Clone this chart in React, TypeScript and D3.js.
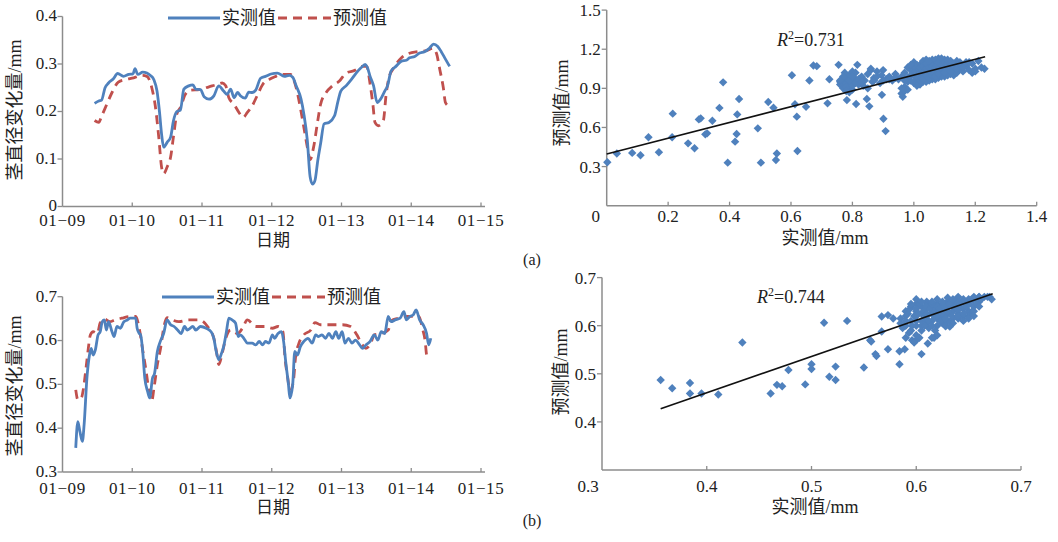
import React from "react";
import * as d3 from "d3";

// ---------- data ----------
const dayLabels = ["01−09", "01−10", "01−11", "01−12", "01−13", "01−14", "01−15"];
const yTicksA = [0, 0.1, 0.2, 0.3, 0.4];
const yTicksB = [0.3, 0.4, 0.5, 0.6, 0.7];

// [day offset from 01-09, value]
const measuredA: [number, number][] = [[0.46,0.217],[0.52,0.222],[0.56,0.224],[0.61,0.25],[0.66,0.26],[0.73,0.269],[0.79,0.28],[0.875,0.274],[0.95,0.278],[1.01,0.279],[1.04,0.29],[1.08,0.278],[1.15,0.283],[1.21,0.281],[1.26,0.276],[1.31,0.267],[1.355,0.243],[1.39,0.2],[1.42,0.153],[1.45,0.125],[1.5,0.135],[1.55,0.146],[1.59,0.18],[1.64,0.2],[1.69,0.203],[1.74,0.247],[1.81,0.254],[1.87,0.256],[1.91,0.247],[1.98,0.246],[2.03,0.231],[2.1,0.226],[2.17,0.233],[2.24,0.254],[2.31,0.243],[2.36,0.236],[2.41,0.247],[2.46,0.229],[2.51,0.24],[2.55,0.233],[2.62,0.228],[2.67,0.241],[2.72,0.24],[2.77,0.245],[2.84,0.27],[2.91,0.274],[2.99,0.279],[3.08,0.281],[3.18,0.274],[3.25,0.276],[3.3,0.272],[3.35,0.254],[3.42,0.226],[3.46,0.195],[3.51,0.139],[3.55,0.0625],[3.585,0.047],[3.62,0.055],[3.66,0.097],[3.7,0.132],[3.75,0.174],[3.82,0.177],[3.9,0.191],[3.95,0.222],[3.99,0.243],[4.065,0.254],[4.14,0.267],[4.21,0.281],[4.28,0.292],[4.34,0.299],[4.37,0.293],[4.41,0.274],[4.46,0.254],[4.51,0.219],[4.56,0.226],[4.62,0.243],[4.66,0.254],[4.71,0.285],[4.78,0.295],[4.86,0.306],[4.93,0.308],[4.975,0.313],[5.05,0.316],[5.12,0.323],[5.19,0.326],[5.26,0.333],[5.32,0.342],[5.38,0.337],[5.43,0.326],[5.48,0.313],[5.55,0.295]];
const predictedA: [number, number][] = [[0.46,0.181],[0.52,0.177],[0.56,0.19],[0.635,0.215],[0.71,0.24],[0.8,0.262],[0.9,0.267],[1.02,0.271],[1.14,0.276],[1.21,0.274],[1.28,0.25],[1.33,0.212],[1.38,0.146],[1.42,0.083],[1.45,0.069],[1.5,0.083],[1.55,0.104],[1.59,0.146],[1.64,0.195],[1.69,0.208],[1.76,0.236],[1.84,0.245],[1.96,0.246],[2.1,0.252],[2.2,0.256],[2.29,0.26],[2.34,0.254],[2.385,0.229],[2.46,0.215],[2.53,0.198],[2.59,0.1875],[2.65,0.198],[2.72,0.212],[2.79,0.233],[2.87,0.257],[2.96,0.267],[3.06,0.274],[3.13,0.278],[3.27,0.278],[3.35,0.25],[3.42,0.2],[3.46,0.167],[3.51,0.125],[3.55,0.099],[3.6,0.125],[3.66,0.181],[3.7,0.215],[3.78,0.24],[3.87,0.254],[3.97,0.264],[4.065,0.281],[4.18,0.286],[4.3,0.295],[4.36,0.295],[4.41,0.258],[4.45,0.215],[4.48,0.177],[4.53,0.17],[4.6,0.181],[4.64,0.236],[4.68,0.271],[4.75,0.292],[4.86,0.313],[4.96,0.322],[5.1,0.326],[5.22,0.328],[5.31,0.333],[5.36,0.323],[5.41,0.288],[5.46,0.25],[5.49,0.219],[5.53,0.212]];
const measuredB: [number, number][] = [[0.19,0.355],[0.22,0.415],[0.25,0.392],[0.285,0.37],[0.31,0.408],[0.35,0.514],[0.38,0.56],[0.41,0.582],[0.44,0.567],[0.47,0.578],[0.51,0.613],[0.54,0.62],[0.57,0.643],[0.6,0.647],[0.63,0.624],[0.66,0.643],[0.71,0.62],[0.74,0.609],[0.78,0.632],[0.83,0.628],[0.88,0.643],[0.93,0.647],[0.97,0.651],[1.05,0.651],[1.07,0.628],[1.1,0.616],[1.12,0.613],[1.15,0.575],[1.18,0.514],[1.22,0.484],[1.25,0.469],[1.29,0.514],[1.32,0.525],[1.36,0.575],[1.4,0.597],[1.45,0.616],[1.5,0.647],[1.55,0.636],[1.6,0.632],[1.65,0.624],[1.7,0.616],[1.75,0.632],[1.79,0.624],[1.87,0.632],[1.91,0.624],[1.98,0.632],[2.06,0.628],[2.13,0.62],[2.17,0.605],[2.2,0.578],[2.24,0.556],[2.28,0.571],[2.31,0.586],[2.35,0.62],[2.385,0.651],[2.43,0.647],[2.48,0.64],[2.52,0.609],[2.55,0.613],[2.6,0.605],[2.65,0.594],[2.72,0.594],[2.77,0.59],[2.82,0.598],[2.87,0.59],[2.91,0.598],[2.96,0.594],[3.01,0.613],[3.04,0.605],[3.09,0.616],[3.14,0.62],[3.17,0.598],[3.2,0.552],[3.24,0.499],[3.26,0.469],[3.3,0.499],[3.33,0.575],[3.37,0.567],[3.41,0.586],[3.46,0.598],[3.52,0.605],[3.58,0.594],[3.63,0.613],[3.67,0.609],[3.72,0.613],[3.77,0.605],[3.82,0.616],[3.87,0.605],[3.92,0.62],[3.96,0.605],[4.01,0.62],[4.05,0.594],[4.1,0.605],[4.15,0.594],[4.2,0.601],[4.26,0.59],[4.3,0.582],[4.35,0.59],[4.41,0.598],[4.47,0.613],[4.52,0.601],[4.57,0.62],[4.62,0.616],[4.67,0.655],[4.71,0.643],[4.77,0.647],[4.84,0.651],[4.895,0.666],[4.93,0.647],[4.98,0.655],[5.03,0.659],[5.07,0.67],[5.12,0.647],[5.17,0.636],[5.22,0.616],[5.25,0.59],[5.28,0.605]];
const predictedB: [number, number][] = [[0.19,0.4875],[0.22,0.465],[0.27,0.469],[0.3,0.49],[0.34,0.541],[0.37,0.582],[0.4,0.613],[0.44,0.62],[0.5,0.616],[0.54,0.64],[0.6,0.649],[0.68,0.643],[0.75,0.647],[0.85,0.651],[0.97,0.655],[1.05,0.655],[1.1,0.628],[1.15,0.578],[1.2,0.529],[1.24,0.484],[1.28,0.462],[1.31,0.49],[1.36,0.545],[1.41,0.586],[1.45,0.628],[1.5,0.652],[1.57,0.647],[1.67,0.643],[1.81,0.647],[1.96,0.647],[2.08,0.632],[2.17,0.605],[2.22,0.563],[2.24,0.545],[2.29,0.571],[2.34,0.605],[2.41,0.624],[2.51,0.616],[2.58,0.628],[2.65,0.647],[2.77,0.632],[2.91,0.632],[3.01,0.628],[3.09,0.632],[3.16,0.62],[3.19,0.56],[3.23,0.514],[3.26,0.484],[3.31,0.507],[3.34,0.56],[3.39,0.594],[3.46,0.613],[3.56,0.624],[3.62,0.641],[3.7,0.636],[3.87,0.636],[4.01,0.636],[4.13,0.632],[4.22,0.613],[4.3,0.59],[4.35,0.582],[4.42,0.594],[4.47,0.613],[4.57,0.616],[4.67,0.624],[4.71,0.645],[4.82,0.651],[4.94,0.655],[5.03,0.655],[5.11,0.655],[5.16,0.628],[5.2,0.598],[5.22,0.567],[5.25,0.556]];

// scatter (a): [measured, predicted]
const scatterA: [number, number][] = [[0.002,0.333],[0.033,0.4],[0.083,0.405],[0.11,0.387],[0.136,0.525],[0.17,0.41],[0.215,0.706],[0.213,0.525],[0.265,0.478],[0.286,0.44],[0.3,0.662],[0.306,0.67],[0.321,0.547],[0.327,0.555],[0.344,0.652],[0.367,0.75],[0.379,0.946],[0.394,0.33],[0.418,0.491],[0.423,0.55],[0.425,0.7],[0.431,0.818],[0.492,0.593],[0.502,0.33],[0.526,0.795],[0.543,0.752],[0.554,0.4],[0.551,0.35],[0.603,1.0],[0.613,0.778],[0.619,0.683],[0.621,0.42],[0.649,0.758],[0.66,0.96],[0.673,1.075],[0.684,1.07],[0.719,0.785],[0.725,0.97],[0.755,1.08],[0.76,0.95],[0.782,0.81],[0.812,0.78],[0.816,1.08],[0.847,0.818],[0.855,0.762],[0.86,1.04],[0.896,0.85],[0.901,0.667],[0.908,0.572],[0.964,0.836],
[0.76,0.93],[0.77,0.96],[0.77,0.9],[0.78,0.94],[0.78,0.98],[0.79,0.92],[0.79,1.0],[0.8,0.95],[0.8,0.89],[0.81,0.97],[0.81,1.02],[0.79,0.87],[0.82,0.93],[0.83,0.99],[0.84,0.96],[0.85,1.01],[0.86,1.05],[0.87,0.98],[0.88,1.03],[0.89,0.94],[0.9,1.04],[0.91,0.97],[0.92,0.99],[0.93,0.96],[0.94,1.01],[0.95,0.97],[0.96,0.99],[0.97,1.02],[0.98,0.95],[0.99,1.04],[0.775,1.02],[0.8,1.03],[0.835,0.92],[0.865,0.95],[0.895,1.0],[0.85,0.9],
[0.77,0.99],[0.78,0.91],[0.79,0.96],[0.8,0.99],[0.8,0.92],[0.81,0.94],[0.82,0.97],[0.78,0.88],[0.76,0.96],[0.83,0.95],[0.87,0.96],[0.88,0.99],[0.9,0.96],[0.92,0.97],[0.94,0.98],
[1.0,1.1],[1.0,0.94],[1.0,1.0],[1.01,0.97],[1.01,1.05],[1.02,0.93],[1.02,1.08],[1.02,1.01],[1.03,0.99],[1.03,1.11],[1.03,1.04],[1.04,0.95],[1.04,1.07],[1.04,1.12],[1.05,1.0],[1.05,1.03],[1.05,1.09],[1.06,0.97],[1.06,1.06],[1.06,1.12],[1.07,1.01],[1.07,1.04],[1.07,1.1],[1.08,0.98],[1.08,1.07],[1.08,1.13],[1.09,1.02],[1.09,1.05],[1.09,1.11],[1.1,0.99],[1.1,1.08],[1.1,1.12],[1.11,1.03],[1.11,1.06],[1.12,1.01],[1.12,1.09],[1.13,1.04],[1.13,1.0],[1.14,1.07],[1.14,1.02],[1.15,1.05],[1.15,1.1],[1.16,1.03],[1.17,1.07],[1.18,1.04],[1.19,1.02],[1.19,1.09],[1.2,1.05],[1.21,1.11],[1.22,1.06],[1.23,1.05],[1.2,1.03],[1.01,0.92],[1.03,0.95],[1.05,0.96],[1.07,0.97],[0.99,0.96],[0.98,1.06],[1.09,0.99],[1.11,1.0],[1.06,1.09],[1.04,1.02],[1.08,1.04],[1.12,1.06],[1.16,1.08],[1.18,1.1],[1.1,1.05],[1.02,1.04],[1.0,1.07],[1.14,1.11],
[1.0,1.02],[1.01,1.08],[1.01,0.99],[1.02,0.96],[1.02,1.06],[1.03,1.02],[1.03,1.07],[1.03,0.97],[1.04,1.0],[1.04,1.05],[1.04,1.09],[1.05,0.98],[1.05,1.06],[1.05,1.11],[1.06,1.0],[1.06,1.03],[1.06,1.07],[1.07,0.99],[1.07,1.06],[1.07,1.12],[1.08,1.01],[1.08,1.1],[1.09,1.08],[1.09,1.13],[1.1,1.02],[1.1,1.1],[1.11,1.09],[1.11,1.12],[1.12,1.03],[1.12,1.11],[1.13,1.07],[1.13,1.09],[1.14,1.05],[1.15,1.08],[1.16,1.06],[1.17,1.1],[0.99,1.0],[0.98,0.98],[0.97,0.96],[0.99,1.08],
[0.96,0.86],[0.97,0.88],[0.97,0.91],[0.98,0.89],[0.96,0.9]];

// scatter (b): [measured, predicted]
const scatterB: [number, number][] = [[0.356,0.487],[0.367,0.47],[0.384,0.481],[0.384,0.459],[0.395,0.459],[0.411,0.457],[0.434,0.565],[0.461,0.459],[0.467,0.477],[0.472,0.474],[0.478,0.508],[0.494,0.478],[0.5,0.52],[0.5,0.51],[0.512,0.606],[0.517,0.494],[0.523,0.487],[0.523,0.515],[0.534,0.61],[0.55,0.513],[0.556,0.57],[0.557,0.567],[0.561,0.541],[0.562,0.537],[0.567,0.588],[0.567,0.619],[0.573,0.622],[0.573,0.551],[0.578,0.615],[0.584,0.52],[0.584,0.547],[0.589,0.551],[0.596,0.57],[0.6,0.57],[0.605,0.541],[0.611,0.563],[0.617,0.575],[0.628,0.599],[0.653,0.629],
[0.59,0.62],[0.59,0.63],[0.59,0.6],[0.595,0.64],[0.595,0.61],[0.595,0.59],[0.6,0.645],[0.6,0.63],[0.6,0.62],[0.6,0.6],[0.6,0.58],[0.605,0.64],[0.605,0.625],[0.605,0.61],[0.605,0.59],[0.61,0.645],[0.61,0.635],[0.61,0.62],[0.61,0.605],[0.615,0.64],[0.615,0.625],[0.615,0.61],[0.62,0.645],[0.62,0.63],[0.62,0.615],[0.62,0.6],[0.625,0.645],[0.625,0.635],[0.625,0.62],[0.63,0.65],[0.63,0.64],[0.63,0.625],[0.63,0.61],[0.635,0.645],[0.635,0.63],[0.64,0.65],[0.64,0.64],[0.64,0.625],[0.64,0.615],[0.645,0.65],[0.645,0.635],[0.645,0.62],[0.65,0.655],[0.65,0.645],[0.65,0.63],[0.655,0.655],[0.655,0.64],[0.66,0.66],[0.66,0.65],[0.665,0.66],[0.67,0.66],[0.672,0.655],[0.585,0.615],[0.59,0.575],[0.598,0.565],[0.612,0.595],[0.625,0.605],[0.635,0.615],[0.645,0.61],[0.65,0.62],[0.655,0.63],[0.585,0.605],[0.6,0.655],[0.62,0.655],[0.64,0.66],[0.66,0.66],[0.63,0.658],[0.61,0.65],[0.618,0.59],[0.628,0.6],
[0.59,0.61],[0.592,0.625],[0.594,0.635],[0.596,0.6],[0.598,0.62],[0.6,0.61],[0.6,0.635],[0.602,0.625],[0.603,0.645],[0.605,0.6],[0.607,0.63],[0.608,0.615],[0.61,0.64],[0.61,0.625],[0.612,0.61],[0.613,0.635],[0.615,0.645],[0.615,0.6],[0.617,0.62],[0.618,0.63],[0.62,0.64],[0.62,0.62],[0.622,0.635],[0.623,0.61],[0.625,0.625],[0.627,0.64],[0.628,0.615],[0.63,0.63],[0.632,0.645],[0.634,0.62],[0.636,0.64],[0.638,0.65],[0.64,0.632],[0.642,0.645],[0.645,0.655],[0.648,0.64],[0.652,0.65],[0.655,0.66],[0.658,0.645],[0.662,0.655],[0.668,0.66],[0.595,0.645],[0.605,0.65],[0.615,0.65],[0.625,0.65],[0.635,0.655],[0.587,0.595],[0.593,0.585],[0.603,0.575],[0.608,0.6],[0.64,0.62],[0.645,0.625],[0.655,0.62],[0.66,0.64],[0.65,0.615],[0.635,0.605],[0.62,0.58],[0.615,0.575],[0.632,0.598]];

// regression fits: [intercept, slope, xStart, xEnd]
const fitA = [0.396, 0.606, 0.0, 1.232];
const fitB = [0.159, 0.754, 0.356, 0.673];
const r2A = "0.731";
const r2B = "0.744";

const xTicksSA = [0, 0.2, 0.4, 0.6, 0.8, 1.0, 1.2, 1.4];
const yTicksSA = [0.3, 0.6, 0.9, 1.2, 1.5];
const xTicksSB = [0.3, 0.4, 0.5, 0.6, 0.7];
const yTicksSB = [0.4, 0.5, 0.6, 0.7];

// ---------- styles ----------
const BLUE = "#4f81bd";
const RED = "#c0504d";
const AXIS = "#8c8c8c";
const SERIF = "'Liberation Serif', 'Times New Roman', 'Noto Sans CJK SC', serif";
const CJK = "'Noto Sans CJK SC', 'Liberation Serif', serif";

function LineChart({ yDomain, yRange, yTicks, measured, predicted, legendX, legendY, titleY, dateY, tickLabelY, fmt }: any) {
  const x = d3.scaleLinear().domain([0, 6]).range([62.5, 481]);
  const y = d3.scaleLinear().domain(yDomain).range(yRange);
  const line = d3.line<[number, number]>().x(d => x(d[0])).y(d => y(d[1])).curve(d3.curveMonotoneX);
  const yBottom = yRange[0];
  const yTop = yRange[1];
  return (
    <g>
      <line x1={62.5} x2={62.5} y1={yTop} y2={yBottom} stroke={AXIS} strokeWidth={1.5} />
      <line x1={62.5} x2={485} y1={yBottom} y2={yBottom} stroke={AXIS} strokeWidth={1.5} />
      {yTicks.map((t: number) => (
        <g key={t}>
          <line x1={57.5} x2={62.5} y1={y(t)} y2={y(t)} stroke={AXIS} strokeWidth={1.3} />
          <text x={57} y={y(t) - 1} dy="0.35em" textAnchor="end" fontFamily={SERIF} fontSize={17} fill="#222">{fmt(t)}</text>
        </g>
      ))}
      {dayLabels.map((lab, i) => (
        <g key={lab}>
          {i > 0 && <line x1={x(i)} x2={x(i)} y1={yBottom} y2={yBottom - 4} stroke={AXIS} strokeWidth={1.3} />}
          <text x={x(i)} y={tickLabelY} dy="0.35em" textAnchor="middle" fontFamily={SERIF} fontSize={17} letterSpacing={0.6} fill="#222">{lab}</text>
        </g>
      ))}
      <path d={line(predicted) || ""} fill="none" stroke={RED} strokeWidth={2.8} strokeDasharray="9,6" />
      <path d={line(measured) || ""} fill="none" stroke={BLUE} strokeWidth={2.8} />
      <line x1={legendX} x2={legendX + 52} y1={legendY} y2={legendY} stroke={BLUE} strokeWidth={2.8} />
      <text x={legendX + 54} y={legendY} dy="0.36em" fontFamily={CJK} fontSize={18} fill="#222">实测值</text>
      <line x1={legendX + 110} x2={legendX + 163} y1={legendY} y2={legendY} stroke={RED} strokeWidth={2.8} strokeDasharray="9,6" />
      <text x={legendX + 165} y={legendY} dy="0.36em" fontFamily={CJK} fontSize={18} fill="#222">预测值</text>
      <text transform={`translate(15,${titleY}) rotate(-90)`} textAnchor="middle" dy="0.35em" fontFamily={CJK} fontSize={18} fill="#222">
        茎直径变化量<tspan fontFamily={SERIF}>/mm</tspan>
      </text>
      <text x={273} y={dateY} dy="0.35em" textAnchor="middle" fontFamily={CJK} fontSize={17} fill="#222">日期</text>
    </g>
  );
}

function diamond(r: number) {
  return `M0,${-r}L${r},0L0,${r}L${-r},0Z`;
}

function Scatter({ xDomain, xRange, yDomain, yRange, xTicks, yTicks, data, fit, r2, r2x, r2y, xTickY, xTitleY, xTitleX, yTitleX, yTitleY, xFmt, yFmt, firstDx }: any) {
  const x = d3.scaleLinear().domain(xDomain).range(xRange);
  const y = d3.scaleLinear().domain(yDomain).range(yRange);
  const [b0, b1, fx0, fx1] = fit;
  return (
    <g>
      <line x1={xRange[0]} x2={xRange[0]} y1={yRange[1]} y2={yRange[0]} stroke={AXIS} strokeWidth={1.5} />
      <line x1={xRange[0]} x2={xRange[1]} y1={yRange[0]} y2={yRange[0]} stroke={AXIS} strokeWidth={1.5} />
      {yTicks.map((t: number) => (
        <g key={t}>
          <line x1={xRange[0] - 5} x2={xRange[0]} y1={y(t)} y2={y(t)} stroke={AXIS} strokeWidth={1.3} />
          <text x={xRange[0] - 6} y={y(t)} dy="0.35em" textAnchor="end" fontFamily={SERIF} fontSize={17} fill="#222">{yFmt(t)}</text>
        </g>
      ))}
      {xTicks.map((t: number, i: number) => (
        <g key={t}>
          {i > 0 && <line x1={x(t)} x2={x(t)} y1={yRange[0]} y2={yRange[0] - 4} stroke={AXIS} strokeWidth={1.3} />}
          <text x={x(t) + (i === 0 ? firstDx : 0)} y={xTickY} dy="0.35em" textAnchor="middle" fontFamily={SERIF} fontSize={17} fill="#222">{xFmt(t)}</text>
        </g>
      ))}
      {data.map((d: [number, number], i: number) => (
        <path key={i} d={diamond(4.2)} transform={`translate(${x(d[0])},${y(d[1])})`} fill={BLUE} />
      ))}
      <line x1={x(fx0)} y1={y(b0 + b1 * fx0)} x2={x(fx1)} y2={y(b0 + b1 * fx1)} stroke="#111" strokeWidth={1.6} />
      <text x={r2x} y={r2y} dy="0.35em" fontFamily={SERIF} fontSize={18} fill="#222">
        <tspan fontStyle="italic">R</tspan>
        <tspan dy="-7" fontSize={12}>2</tspan>
        <tspan dy="7">={r2}</tspan>
      </text>
      <text x={xTitleX} y={xTitleY + 1} dy="0.35em" textAnchor="middle" fontFamily={CJK} fontSize={18} fill="#222">
        实测值<tspan fontFamily={SERIF}>/mm</tspan>
      </text>
      <text transform={`translate(${yTitleX},${yTitleY}) rotate(-90)`} textAnchor="middle" dy="0.35em" fontFamily={CJK} fontSize={18} fill="#222">
        预测值<tspan fontFamily={SERIF}>/mm</tspan>
      </text>
    </g>
  );
}

export default function App() {
  const f1 = d3.format(".1f");
  const fA = (t: number) => (t === 0 ? "0" : f1(t));
  return (
    <svg width={1058} height={542} style={{ position: "absolute", left: 0, top: 0, background: "#fff" }}>
      <rect width={1058} height={542} fill="#fff" />
      <LineChart yDomain={[0, 0.4]} yRange={[206.5, 16.5]} yTicks={yTicksA} measured={measuredA} predicted={predictedA}
        legendX={168} legendY={18} titleY={110} dateY={240} tickLabelY={220} fmt={fA} />
      <LineChart yDomain={[0.3, 0.7]} yRange={[472, 296.7]} yTicks={yTicksB} measured={measuredB} predicted={predictedB}
        legendX={162} legendY={297} titleY={386} dateY={507} tickLabelY={488.5} fmt={f1} />
      <Scatter xDomain={[0, 1.4]} xRange={[606.7, 1036.7]} yDomain={[0, 1.5]} yRange={[205.7, 10.1]}
        xTicks={xTicksSA} yTicks={yTicksSA} data={scatterA} fit={fitA} r2={r2A} r2x={777} r2y={40}
        xTickY={216.5} xTitleY={237} xTitleX={825} yTitleX={562} yTitleY={103} xFmt={fA} yFmt={f1} firstDx={-11} />
      <Scatter xDomain={[0.3, 0.7]} xRange={[602, 1021]} yDomain={[0.3, 0.7]} yRange={[470, 277.6]}
        xTicks={xTicksSB} yTicks={yTicksSB} data={scatterB} fit={fitB} r2={r2B} r2x={757} r2y={297}
        xTickY={486} xTitleY={506} xTitleX={815} yTitleX={561} yTitleY={372} xFmt={f1} yFmt={f1} firstDx={-14} />
      <text x={532} y={259} dy="0.35em" textAnchor="middle" fontFamily={SERIF} fontSize={16} fill="#222">(a)</text>
      <text x={532} y={520} dy="0.35em" textAnchor="middle" fontFamily={SERIF} fontSize={16} fill="#222">(b)</text>
    </svg>
  );
}
